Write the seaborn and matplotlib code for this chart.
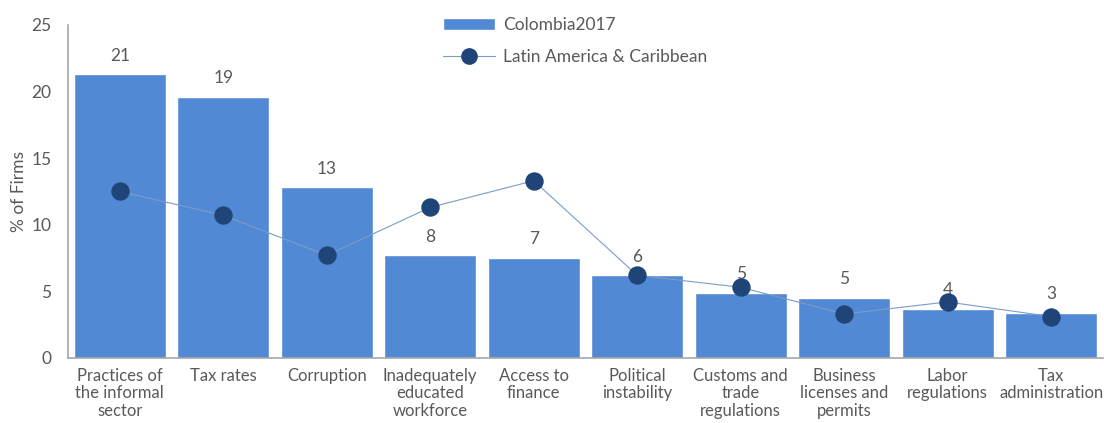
import numpy as np
import pandas as pd
import matplotlib
matplotlib.use("Agg")
import matplotlib.pyplot as plt
import seaborn as sns
from matplotlib.lines import Line2D
from matplotlib.patches import Patch

# Data
categories = [
    "Practices of\nthe informal\nsector",
    "Tax rates",
    "Corruption",
    "Inadequately\neducated\nworkforce",
    "Access to\nfinance",
    "Political\ninstability",
    "Customs and\ntrade\nregulations",
    "Business\nlicenses and\npermits",
    "Labor\nregulations",
    "Tax\nadministration",
]
colombia = [21.3, 19.6, 12.8, 7.7, 7.5, 6.2, 4.9, 4.5, 3.7, 3.4]
colombia_labels = ["21", "19", "13", "8", "7", "6", "5", "5", "4", "3"]
lac = [12.5, 10.7, 7.7, 11.3, 13.3, 6.2, 5.3, 3.3, 4.2, 3.1]

bar_color = "#5189D4"
dot_color = "#1F4478"
line_color = "#7A9CCB"
text_color = "#595959"
fs = 12.5

sns.set_style("white")
plt.rcParams["font.family"] = ["Lato", "DejaVu Sans"]

df = pd.DataFrame({"category": categories, "value": colombia})

fig, ax = plt.subplots(figsize=(11.04, 4.23), dpi=100)
fig.subplots_adjust(left=0.0616, right=0.999, top=0.941, bottom=0.154)

sns.barplot(data=df, x="category", y="value", color=bar_color, saturation=1,
            width=0.89, ax=ax)

x = np.arange(len(categories))
ax.plot(x, lac, color=line_color, linewidth=0.8, zorder=3)
ax.scatter(x, lac, s=150, color=dot_color, zorder=4)

for xi, v, lab in zip(x, colombia, colombia_labels):
    ax.text(xi, v + 0.8, lab, ha="center", va="bottom", fontsize=fs, color=text_color)

ax.set_ylim(0, 25)
ax.set_xlim(-0.5, len(categories) - 0.5)
ax.set_yticks(range(0, 26, 5))
ax.set_xlabel("")
ax.set_ylabel("% of Firms", fontsize=fs, color=text_color, labelpad=3)
ax.tick_params(axis="both", length=0, labelsize=fs, labelcolor=text_color)
ax.tick_params(axis="x", pad=7, labelsize=12)
ax.tick_params(axis="y", pad=12)
for t in ax.get_xticklabels():
    t.set_linespacing(1.12)

for s in ["top", "right"]:
    ax.spines[s].set_visible(False)
for s in ["left", "bottom"]:
    ax.spines[s].set_color("#A6A6A6")
    ax.spines[s].set_linewidth(1.2)

handles = [
    Patch(facecolor=bar_color, label="Colombia2017"),
    Line2D([0], [0], color=line_color, linewidth=0.8, marker="o",
           markersize=11, markerfacecolor=dot_color, markeredgecolor=dot_color,
           label="Latin America & Caribbean"),
]
leg = ax.legend(handles=handles, loc="upper center", bbox_to_anchor=(0.49, 1.07),
                frameon=False, fontsize=fs, handlelength=3.0, handletextpad=0.5,
                labelspacing=0.9)
for t in leg.get_texts():
    t.set_color(text_color)

fig.savefig("out.png", dpi=100)
